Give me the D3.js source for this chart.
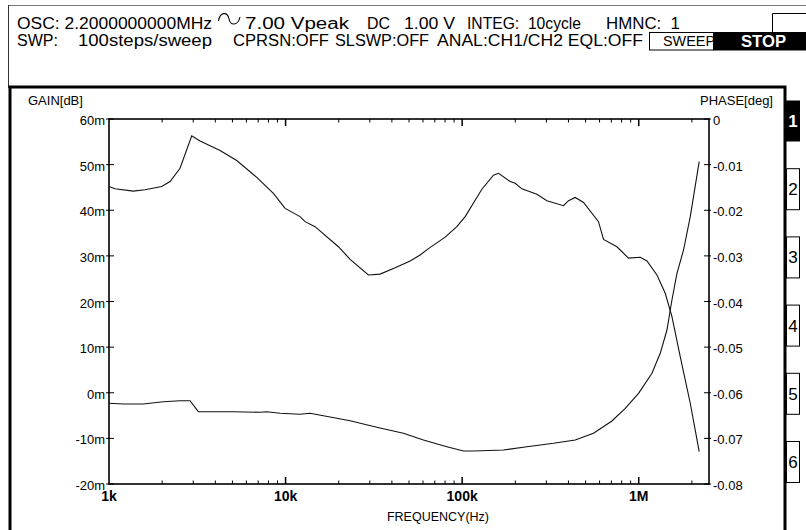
<!DOCTYPE html>
<html><head><meta charset="utf-8">
<script src="https://cdn.jsdelivr.net/npm/d3@7"></script>
<style>body{margin:0;background:#fff;} svg{display:block;font-family:"Liberation Sans",Arial,sans-serif;} .pre{white-space:pre;}</style>
</head><body>
<script>
// ---- data ----
const xTickLabels = ["1k","10k","100k","1M"];
const xTickValues = [1e3,1e4,1e5,1e6];
const gainTicks = [-20,-10,0,10,20,30,40,50,60];
const gainTickLabels = ["-20m","-10m","0m","10m","20m","30m","40m","50m","60m"];
const phaseTicks = [-0.08,-0.07,-0.06,-0.05,-0.04,-0.03,-0.02,-0.01,0];
const phaseTickLabels = ["-0.08","-0.07","-0.06","-0.05","-0.04","-0.03","-0.02","-0.01","0"];
const tabLabels = ["1","2","3","4","5","6"];

const gainFreq = [1000,1081,1373,1600,1989,2216,2525,2942,3279,4255,5290,6868,8530,9940,12080,12900,14690,19920,23200,29450,34300,41730,50750,57810,64430,80110,93300,104000,129300,150400,160600,187100,199700,217900,265000,301900,375000,400200,436800,486800,591800,631800,752500,875500,1020000,1113000,1268000,1413000,1542000,1718000,1958000,2200000];
const gainValues = [45.2,44.7,44.2,44.5,45.2,46.3,49.2,56.3,55.2,53.1,50.9,47.2,43.7,40.4,38.6,37.5,36.4,32.0,29.25,25.8,26.0,27.4,28.9,30.2,31.6,34.1,36.4,38.6,44.6,47.7,48.1,46.3,45.9,44.7,43.5,42.1,41.0,42.1,42.8,41.7,37.5,33.6,32.0,29.5,29.7,28.9,25.8,21.8,16.7,7.9,-2.3,-12.9];

const phaseFreq = [1000,1205,1564,2030,2525,2877,3206,5060,7170,7820,9310,12080,13760,23200,32860,46490,60360,81900,101700,115900,171400,232600,329200,436800,554400,705100,838600,997500,1188000,1324000,1445000,1542000,1646000,1794000,1958000,2200000];
const phaseValues = [-0.06231,-0.06247,-0.06247,-0.06196,-0.06174,-0.06174,-0.06415,-0.06415,-0.06428,-0.06415,-0.0645,-0.06472,-0.0645,-0.06613,-0.06757,-0.06889,-0.07036,-0.07182,-0.07277,-0.07277,-0.07255,-0.07182,-0.07108,-0.07036,-0.06889,-0.06619,-0.06341,-0.06012,-0.05574,-0.05135,-0.04625,-0.03967,-0.03382,-0.02871,-0.02141,-0.00936];

// ---- layout ----
const W = 806, H = 530;
const L = 109, R = 709, T = 119, B = 484;
const svg = d3.select("body").append("svg").attr("width", W).attr("height", H);

const x = d3.scaleLog().domain([1e3, 2.5e6]).range([L, R]);
const yG = d3.scaleLinear().domain([-20, 60]).range([B, T]);
const yP = d3.scaleLinear().domain([-0.08, 0]).range([B, T]);

// ---- header ----
svg.append("line").attr("x1",8).attr("x2",W).attr("y1",5.5).attr("y2",5.5).attr("stroke","#777").attr("stroke-width",1);
svg.append("line").attr("x1",8.5).attr("x2",8.5).attr("y1",5).attr("y2",88).attr("stroke","#333").attr("stroke-width",1);
svg.append("path").attr("d","M772.5,33 V13.5 H806").attr("fill","none").attr("stroke","#000").attr("stroke-width",1);

const hdr = svg.append("g").attr("font-size",16).attr("fill","#000");
const row1 = [
  ["OSC: 2.2000000000MHz",17,195],["7.00 Vpeak",245,104],["DC",367,23],["1.00 V",404,51],
  ["INTEG:  10cycle",467,114],["HMNC:  1",606,74]
];
row1.forEach(([t,xx,len])=>{
  hdr.append("text").attr("class","pre").attr("x",xx).attr("y",28.5).text(t)
    .attr("textLength",len).attr("lengthAdjust","spacingAndGlyphs");
});
svg.append("path").attr("d","M218.5,21 C220,11.5 227.5,11.5 229,19 C230.5,26 238,26 240,17").attr("fill","none").attr("stroke","#000").attr("stroke-width",1.1);
const row2 = [
  ["SWP:",17,null],["100steps/sweep",78,134],["CPRSN:OFF",233,96],["SLSWP:OFF",335,94],
  ["ANAL:CH1/CH2 EQL:OFF",437,206]
];
row2.forEach(([t,xx,len])=>{
  const e = hdr.append("text").attr("class","pre").attr("x",xx).attr("y",45.5).text(t);
  if (len) e.attr("textLength",len).attr("lengthAdjust","spacingAndGlyphs");
});
svg.append("rect").attr("x",649.5).attr("y",32.5).attr("width",64).attr("height",17.5).attr("fill","none").attr("stroke","#000").attr("stroke-width",1);
svg.append("text").attr("x",663).attr("y",46).attr("font-size",15).attr("textLength",52).attr("lengthAdjust","spacingAndGlyphs").text("SWEEP");
svg.append("rect").attr("x",713).attr("y",32).attr("width",93).attr("height",18.5).attr("fill","#000");
svg.append("text").attr("x",741).attr("y",47).attr("font-size",16).attr("font-weight","bold").attr("fill","#fff").attr("textLength",45).attr("lengthAdjust","spacingAndGlyphs").text("STOP");

// ---- chart frame ----
svg.append("path").attr("d","M10,540 V87 H785 V540").attr("fill","none").attr("stroke","#000").attr("stroke-width",3);

// tabs
const tabY = d3.scaleLinear().domain([0,5]).range([100,441]);
tabLabels.forEach((t,i)=>{
  const y0 = tabY(i);
  svg.append("rect").attr("x", i===0?786:786.5).attr("y", y0+0.5).attr("width", i===0?14:13).attr("height", 41)
    .attr("fill", i===0?"#000":"#fff").attr("stroke", "#000").attr("stroke-width", i===0?0:1);
  svg.append("text").attr("x",793).attr("y",y0+27).attr("text-anchor","middle")
    .attr("font-size",17).attr("font-weight", i===0?"bold":"normal").attr("fill", i===0?"#fff":"#000").text(t);
});

// ---- axis labels ----
svg.append("text").attr("x",28).attr("y",105).attr("font-size",13).text("GAIN[dB]");
svg.append("text").attr("x",700).attr("y",105).attr("font-size",13).text("PHASE[deg]");
svg.append("text").attr("x",438).attr("y",521).attr("font-size",12.5).attr("text-anchor","middle").text("FREQUENCY(Hz)");

// ---- plot box ----
svg.append("rect").attr("x",L).attr("y",T).attr("width",R-L).attr("height",B-T).attr("fill","none").attr("stroke","#000").attr("stroke-width",1.6);

// x ticks (top & bottom, inward)
const minor = [];
for (let d = 1e3; d < 2.5e6; d *= 10) for (let m = 2; m <= 9; m++) if (m*d < 2.5e6) minor.push(m*d);
const xtg = svg.append("g").attr("stroke","#000").attr("stroke-width",1);
minor.forEach(v=>{
  xtg.append("line").attr("x1",x(v)).attr("x2",x(v)).attr("y1",B).attr("y2",B-3.5);
  xtg.append("line").attr("x1",x(v)).attr("x2",x(v)).attr("y1",T).attr("y2",T+3.5);
});
xTickValues.slice(1).forEach(v=>{
  xtg.append("line").attr("x1",x(v)).attr("x2",x(v)).attr("y1",B).attr("y2",B-7).attr("stroke-width",1.5);
  xtg.append("line").attr("x1",x(v)).attr("x2",x(v)).attr("y1",T).attr("y2",T+7).attr("stroke-width",1.5);
});
xTickValues.forEach((v,i)=>{
  svg.append("text").attr("x",x(v)).attr("y",501).attr("text-anchor","middle").attr("font-size",14).attr("font-weight","bold").text(xTickLabels[i]);
});

// y ticks
gainTicks.forEach((v,i)=>{
  svg.append("line").attr("x1",L-3).attr("x2",L+5).attr("y1",yG(v)).attr("y2",yG(v)).attr("stroke","#000").attr("stroke-width",1);
  svg.append("text").attr("x",105).attr("y",yG(v)+6).attr("text-anchor","end").attr("font-size",13).text(gainTickLabels[i]);
});
phaseTicks.forEach((v,i)=>{
  svg.append("line").attr("x1",R-5).attr("x2",R+2).attr("y1",yP(v)).attr("y2",yP(v)).attr("stroke","#000").attr("stroke-width",1);
  svg.append("text").attr("x",713).attr("y",yP(v)+6).attr("font-size",13).text(phaseTickLabels[i]);
});

// ---- curves ----
const gainData = gainFreq.map((f,i)=>[f,gainValues[i]]);
const phaseData = phaseFreq.map((f,i)=>[f,phaseValues[i]]);
svg.append("path").datum(gainData).attr("fill","none").attr("stroke","#111").attr("stroke-width",1.1)
  .attr("d", d3.line().x(d=>x(d[0])).y(d=>yG(d[1])));
svg.append("path").datum(phaseData).attr("fill","none").attr("stroke","#111").attr("stroke-width",1.1)
  .attr("d", d3.line().x(d=>x(d[0])).y(d=>yP(d[1])));
</script>
</body></html>
